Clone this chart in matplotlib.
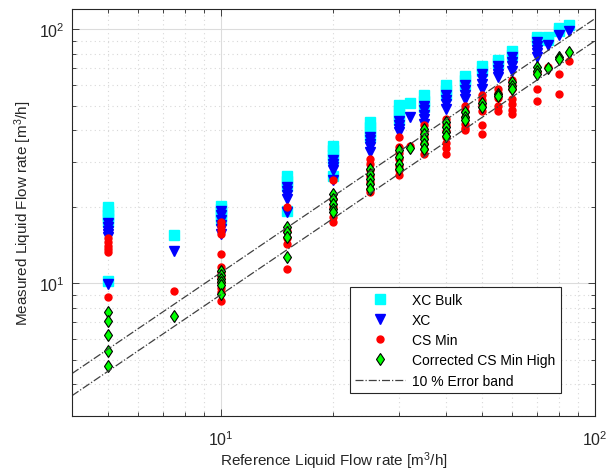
import numpy as np
import matplotlib.pyplot as plt
from matplotlib.ticker import LogLocator, NullFormatter, LogFormatterSciNotation

plt.rcParams['font.family'] = ['Liberation Sans', 'DejaVu Sans']
plt.rcParams['mathtext.default'] = 'regular'

# XC Bulk
xc_bulk_x = [5, 5, 5, 5, 5, 5, 7.5, 10, 10, 10, 10, 10, 15, 15, 15, 15,
             20, 20, 20, 20, 20, 25, 25, 25, 25, 30, 30, 30, 30, 32,
             35, 35, 35, 40, 40, 40, 45, 45, 45, 50, 50, 55, 55, 60, 60,
             70, 70, 75, 75, 80, 80, 85]
xc_bulk_y = [20.0, 19.3, 18.6, 18.0, 17.4, 10.2, 15.5, 20.2, 19.6, 19.0, 18.4, 17.8,
             26.4, 25.3, 24.2, 19.3, 34.8, 33.3, 32.0, 30.8, 26.5,
             43.0, 41.0, 39.3, 37.6, 50.3, 48.0, 45.8, 43.7, 51.3,
             54.8, 52.0, 49.4, 60.3, 57.5, 55.0, 65.6, 62.8, 60.0,
             71.3, 68.7, 75.9, 73.5, 81.8, 79.0, 93.1, 90.5, 93.1, 90.5,
             101.0, 98.2, 104.0]

# XC
xc_x = [5, 5, 5, 5, 5, 5, 7.5, 10, 10, 10, 10, 10, 10, 15, 15, 15, 15, 15,
        20, 20, 20, 20, 20, 25, 25, 25, 25, 25, 30, 30, 30, 30, 32,
        35, 35, 35, 35, 35, 40, 40, 40, 40, 45, 45, 45, 45,
        50, 50, 50, 50, 55, 55, 55, 55, 60, 60, 60, 60,
        70, 70, 70, 70, 70, 75, 80, 85]
xc_y = [17.2, 16.6, 16.1, 15.6, 15.2, 9.9, 13.4,
        19.2, 18.5, 17.8, 17.0, 16.3, 15.6, 23.8, 23.0, 22.2, 21.4, 19.0,
        30.5, 29.5, 28.6, 27.8, 25.4, 37.6, 36.5, 35.4, 34.4, 32.8,
        43.5, 42.0, 40.6, 39.3, 45.1, 50.0, 48.0, 46.0, 44.2, 42.3,
        54.8, 52.5, 50.5, 48.5, 60.0, 57.5, 55.2, 53.2,
        66.7, 63.8, 61.0, 58.3, 71.9, 69.0, 66.7, 64.5, 77.6, 74.5, 71.5, 68.7,
        89.0, 86.0, 83.0, 80.2, 77.6, 86.6, 94.4, 98.2]

# CS Min
cs_x = [5, 5, 5, 5, 5, 5, 7.5, 10, 10, 10, 10, 10, 10, 10, 10, 10, 10, 10, 10,
        15, 15, 15, 15, 15, 20, 20, 20, 20, 20, 25, 25, 25, 25, 25, 25, 25,
        30, 30, 30, 30, 30, 30, 30, 32, 35, 35, 35, 35, 35, 35,
        40, 40, 40, 40, 40, 40, 40, 45, 45, 45, 45, 45, 45,
        50, 50, 50, 50, 50, 50, 55, 55, 55, 55, 55,
        60, 60, 60, 60, 60, 60, 60, 70, 70, 70, 75, 80, 80, 85]
cs_y = [15.0, 14.5, 14.0, 13.6, 13.2, 8.8, 9.33,
        17.4, 16.8, 16.2, 15.6, 13.0, 11.6, 11.1, 10.6, 10.1, 9.6, 9.2, 8.5,
        19.9, 16.0, 15.0, 14.3, 11.4, 25.4, 21.5, 20.0, 18.2, 17.4,
        30.8, 29.5, 28.0, 26.5, 25.0, 23.5, 22.8,
        37.6, 34.4, 32.5, 30.8, 29.0, 27.8, 26.6, 34.8,
        41.8, 39.5, 37.5, 35.5, 33.8, 32.3,
        44.4, 42.0, 39.8, 37.5, 35.5, 34.0, 32.3,
        50.0, 47.5, 45.0, 42.5, 40.8, 39.9,
        54.8, 52.5, 50.2, 47.8, 41.8, 38.8,
        58.3, 55.8, 53.5, 50.0, 47.8,
        62.8, 60.5, 58.0, 53.2, 50.5, 48.0, 46.2,
        68.0, 58.3, 52.0, 70.8, 66.7, 55.3, 74.9]

# Corrected CS Min High
corr_x = [5, 5, 5, 5, 5, 7.5, 10, 10, 10, 10, 10, 10, 15, 15, 15, 15,
          20, 20, 20, 20, 20, 25, 25, 25, 25, 25, 30, 30, 30, 30, 32,
          35, 35, 35, 35, 35, 40, 40, 40, 40, 45, 45, 45, 50, 50, 55, 55,
          60, 60, 60, 70, 70, 70, 75, 80, 80, 85]
corr_y = [7.7, 7.08, 6.22, 5.38, 4.71, 7.43, 11.2, 10.8, 10.4, 10.1, 9.8, 9.08,
          16.6, 15.9, 15.2, 12.7, 22.5, 21.5, 20.5, 19.6, 19.0,
          28.2, 26.9, 25.7, 24.6, 23.5, 33.3, 31.3, 29.5, 28.2, 34.0,
          40.5, 38.5, 36.9, 35.3, 33.8, 43.0, 41.1, 39.3, 38.1,
          47.1, 45.1, 43.7, 51.3, 49.4, 55.6, 54.5, 61.9, 59.8, 58.3,
          70.8, 68.7, 66.7, 70.5, 78.0, 76.3, 81.1]

band = 0.10
xband = np.array([4.0, 100.0])

fig = plt.figure(figsize=(6.09, 4.77), dpi=100)
ax = fig.add_axes([0.118, 0.126, 0.859, 0.853])

ax.plot(xc_bulk_x, xc_bulk_y, 's', color='#00ffff', markersize=6.5, label='XC Bulk')
ax.plot(xc_x, xc_y, 'v', color='#0000ff', markersize=6.5, label='XC')
ax.plot(cs_x, cs_y, 'o', color='#ff0000', markersize=5, label='CS Min')
ax.plot(corr_x, corr_y, 'd', color='#00ff00', markeredgecolor='black',
        markeredgewidth=0.8, markersize=6, label='Corrected CS Min High')
ax.plot(xband, xband * (1 + band), '-.', color='#404040', linewidth=0.9,
        label='10 % Error band')
ax.plot(xband, xband * (1 - band), '-.', color='#404040', linewidth=0.9)

ax.set_xscale('log')
ax.set_yscale('log')
ax.set_xlim(4, 100)
ax.set_ylim(3, 120)

for axis in (ax.xaxis, ax.yaxis):
    axis.set_major_locator(LogLocator(base=10))
    axis.set_minor_locator(LogLocator(base=10, subs=np.arange(2, 10)))
    axis.set_major_formatter(LogFormatterSciNotation())
    axis.set_minor_formatter(NullFormatter())

ax.grid(True, which='major', color='#dcdcdc', linestyle='-', linewidth=0.8)
ax.grid(True, which='minor', color='#d8d8d8', linestyle=(0, (1, 3)), linewidth=0.8)
ax.set_axisbelow(True)

ax.tick_params(which='both', direction='in', top=True, right=True,
               colors='#262626', labelsize=11.5)
ax.tick_params(which='major', length=5, width=0.6)
ax.tick_params(which='minor', length=3, width=0.6)
ax.tick_params(axis='x', which='major', pad=10)
ax.tick_params(axis='y', which='major', pad=5)
for sp in ax.spines.values():
    sp.set_color('#262626')
    sp.set_linewidth(0.8)

ax.set_xlabel('Reference Liquid Flow rate [m$^3$/h]', fontsize=11, color='#262626',
              labelpad=1)
ax.set_ylabel('Measured Liquid Flow rate [m$^3$/h]', fontsize=11, color='#262626')

leg = ax.legend(loc='lower right', bbox_to_anchor=(0.948, 0.039), fontsize=10,
                fancybox=False, framealpha=1, edgecolor='#262626',
                handlelength=3.6, handletextpad=0.5, labelspacing=0.45,
                borderpad=0.4)
leg.get_frame().set_linewidth(0.8)

fig.savefig('out.png', dpi=100)
